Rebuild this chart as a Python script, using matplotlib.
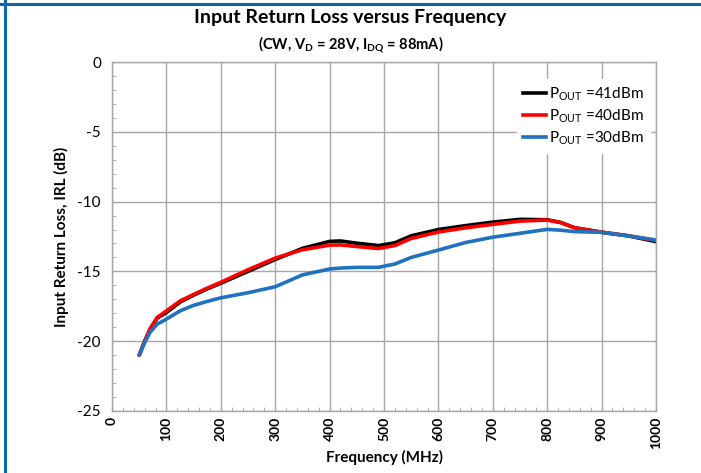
#!/usr/bin/env python3
"""Input return loss versus frequency, three output power levels."""

import matplotlib
matplotlib.use("Agg")
import matplotlib.pyplot as plt
from matplotlib.lines import Line2D
from matplotlib.ticker import MultipleLocator

freq_mhz = [50, 60, 70, 83, 100, 125, 150, 175, 200, 250, 300, 350, 400, 420,
            450, 490, 520, 550, 600, 650, 700, 750, 800, 825, 850, 900, 950,
            1000]
irl_41dbm = [-21.0, -20.0, -19.15, -18.35, -17.95, -17.2, -16.7, -16.25,
             -15.85, -15.0, -14.15, -13.35, -12.85, -12.82, -12.98, -13.15,
             -12.95, -12.45, -12.0, -11.72, -11.47, -11.27, -11.3, -11.5,
             -11.87, -12.2, -12.46, -12.87]
irl_40dbm = [-21.0, -20.0, -19.1, -18.3, -17.83, -17.12, -16.65, -16.2,
             -15.78, -14.88, -14.05, -13.45, -13.12, -13.1, -13.22, -13.36,
             -13.15, -12.64, -12.18, -11.88, -11.63, -11.4, -11.32, -11.5,
             -11.87, -12.18, -12.45, -12.8]
irl_30dbm = [-21.0, -20.1, -19.36, -18.78, -18.42, -17.83, -17.43, -17.15,
             -16.89, -16.53, -16.1, -15.25, -14.83, -14.76, -14.71, -14.71,
             -14.47, -14.0, -13.47, -12.93, -12.55, -12.27, -11.99, -12.05,
             -12.15, -12.2, -12.46, -12.75]

series = [
    (irl_41dbm, "#000000", r"$\mathregular{P_{OUT}}$ =41dBm"),
    (irl_40dbm, "#ff0000", r"$\mathregular{P_{OUT}}$ =40dBm"),
    (irl_30dbm, "#1f72c0", r"$\mathregular{P_{OUT}}$ =30dBm"),
]

plt.rcParams["font.family"] = ["Lato", "DejaVu Sans"]
plt.rcParams["axes.unicode_minus"] = False

fig = plt.figure(figsize=(7.01, 4.73), dpi=100)
ax = fig.add_axes([0.1598, 0.1311, 0.776, 0.7378])

for ys, color, label in series:
    ax.plot(freq_mhz, ys, color=color, linewidth=2.6, label=label,
            solid_capstyle="round", solid_joinstyle="round")

ax.set_xlim(0, 1000)
ax.set_ylim(-25, 0)
ax.xaxis.set_major_locator(MultipleLocator(100))
ax.xaxis.set_minor_locator(MultipleLocator(20))
ax.yaxis.set_major_locator(MultipleLocator(5))
ax.yaxis.set_minor_locator(MultipleLocator(1))
ax.grid(True, which="major", color="#a6a6a6", linewidth=1.0)
ax.set_axisbelow(True)
for sp in ax.spines.values():
    sp.set_color("#a6a6a6")
    sp.set_linewidth(1.0)
ax.tick_params(which="major", direction="in", length=3, color="#a6a6a6",
               labelsize=11)
ax.tick_params(which="minor", direction="in", length=3, color="#a6a6a6")
ax.tick_params(axis="x", labelrotation=90, labelsize=10, pad=4)
ax.tick_params(axis="y", pad=8)
for t in ax.get_xticklabels():
    t.set_fontweight("bold")

ax.set_xlabel("Frequency (MHz)", fontsize=11, fontweight="bold", labelpad=1)
ax.set_ylabel("Input Return Loss, IRL (dB)", fontsize=11, fontweight="bold",
              labelpad=6)

fig.text(0.5, 0.962, "Input Return Loss versus Frequency", ha="center",
         va="center", fontsize=14, fontweight="bold")
fig.text(0.5, 0.905, r"(CW, V$\mathregular{_D}$ = 28V, I$\mathregular{_{DQ}}$ = 88mA)",
         ha="center", va="center", fontsize=10.5, fontweight="bold")

handles = [Line2D([], [], color=c, linewidth=2.6) for _, c, _ in series]
labels = [lab for _, _, lab in series]
ax.legend(handles, labels, loc="upper right", bbox_to_anchor=(0.995, 0.96),
          frameon=True, facecolor="white", edgecolor="white", framealpha=1,
          fontsize=11, handlelength=1.5, handletextpad=0.2, labelspacing=0.3,
          borderaxespad=0.2)

# blue frame lines at the top and left edge of the picture
fig.add_artist(Line2D([0, 1], [1 - 4.5 / 473] * 2, color="#0b68ae",
                      linewidth=2.2, transform=fig.transFigure))
fig.add_artist(Line2D([4.5 / 701] * 2, [0, 1], color="#0b68ae",
                      linewidth=2.2, transform=fig.transFigure))

fig.savefig("out.png", dpi=100)
